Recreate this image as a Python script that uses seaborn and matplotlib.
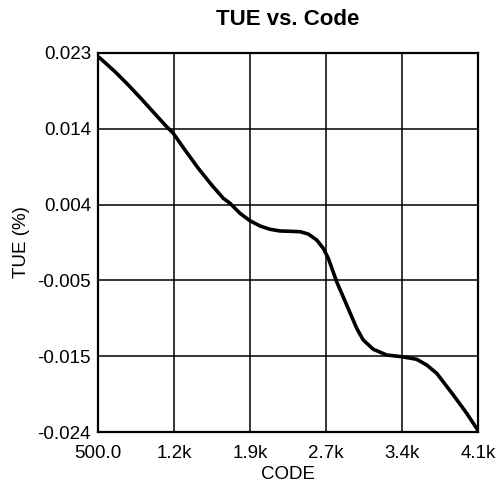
import matplotlib
matplotlib.use("Agg")
import matplotlib.pyplot as plt
import seaborn as sns
import pandas as pd

# data
code = [510, 661, 787, 914, 1040, 1135, 1213, 1324, 1450, 1577, 1687,
        1751, 1845, 1940, 2035, 2129, 2224, 2319, 2414, 2492, 2572, 2634,
        2682, 2761, 2856, 2951, 3013, 3108, 3235, 3377, 3519, 3614, 3709,
        3866, 3993, 4100]
tue = [0.02247, 0.02068, 0.01903, 0.01726, 0.01544, 0.01407, 0.01304,
       0.01097, 0.00870, 0.00663, 0.00498, 0.00436, 0.00312, 0.00220,
       0.00155, 0.00114, 0.00093, 0.00089, 0.00084, 0.00055, -0.00019,
       -0.00122, -0.00246, -0.00536, -0.00825, -0.01114, -0.01259,
       -0.01374, -0.01445, -0.01466, -0.01498, -0.01569, -0.01672,
       -0.01941, -0.02168, -0.0238]

x_ticks = [500, 1220, 1940, 2660, 3380, 4100]
x_labels = ['500.0', '1.2k', '1.9k', '2.7k', '3.4k', '4.1k']
y_ticks = [0.023, 0.0136, 0.0042, -0.0052, -0.0146, -0.024]
y_labels = ['0.023', '0.014', '0.004', '-0.005', '-0.015', '-0.024']

df = pd.DataFrame({'CODE': code, 'TUE': tue})

sns.set_theme(style="white")
plt.rcParams['font.family'] = ['Liberation Sans', 'DejaVu Sans']

fig = plt.figure(figsize=(4.96, 4.87), dpi=100)
ax = fig.add_axes([0.1976, 0.1129, 0.7661, 0.7783])

sns.lineplot(data=df, x='CODE', y='TUE', color='black', linewidth=2.6, ax=ax)
for ln in ax.lines:
    ln.set_solid_joinstyle('round')
    ln.set_solid_capstyle('round')

ax.set_xlim(500, 4100)
ax.set_ylim(-0.024, 0.023)
ax.set_xticks(x_ticks)
ax.set_xticklabels(x_labels)
ax.set_yticks(y_ticks)
ax.set_yticklabels(y_labels)
ax.tick_params(axis='both', length=0, labelsize=13.5, colors='black')
ax.tick_params(axis='x', pad=9)
ax.tick_params(axis='y', pad=5)
ax.grid(True, color='black', linewidth=1.1)
for s in ax.spines.values():
    s.set_color('black')
    s.set_linewidth(1.6)

ax.set_xlabel('CODE', fontsize=13.5, color='black', labelpad=3)
ax.set_ylabel('TUE (%)', fontsize=13.5, color='black', labelpad=5)
ax.set_title('TUE vs. Code', fontsize=16, fontweight='bold', color='black', pad=20)

fig.savefig('out.png', dpi=100)
